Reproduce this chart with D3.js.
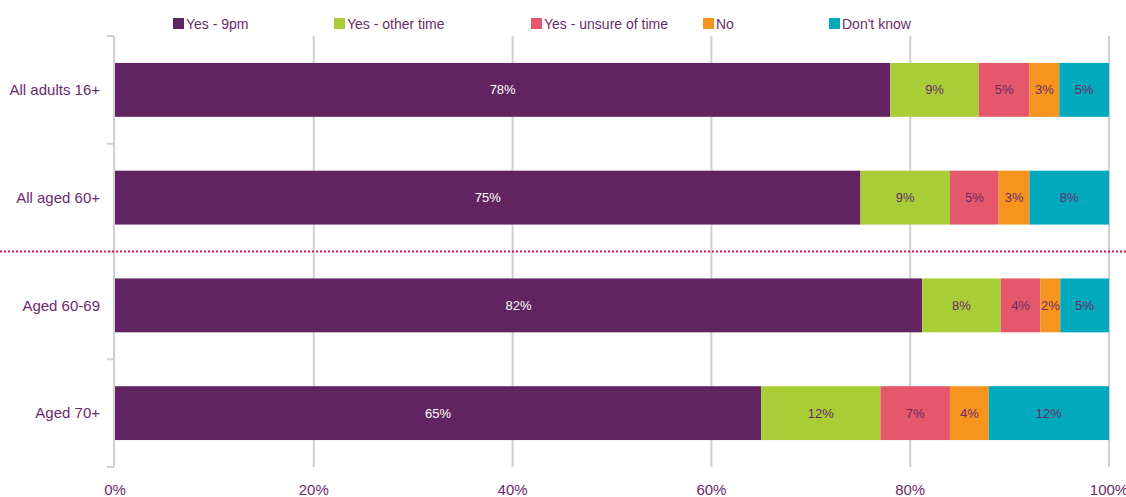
<!DOCTYPE html>
<html>
<head>
<meta charset="utf-8">
<script src="https://cdn.jsdelivr.net/npm/d3@7/dist/d3.min.js"></script>
<style>
  html, body { margin: 0; padding: 0; background: #fff; }
  svg { display: block; font-family: "Liberation Sans", Arial, sans-serif; }
</style>
</head>
<body>
<svg id="chart" width="1126" height="497"></svg>
<script>
const categories = ["All adults 16+", "All aged 60+", "Aged 60-69", "Aged 70+"];
const seriesNames = ["Yes - 9pm", "Yes - other time", "Yes - unsure of time", "No", "Don't know"];
const seriesColors = ["#612461", "#a8cd37", "#e5576a", "#f7941e", "#00a9bc"];
const yes9pm      = [78, 75, 81.2, 65];
const yesOther    = [8.9, 9, 7.9, 12];
const yesUnsure   = [5.1, 4.9, 4.0, 7];
const no          = [3.0, 3.1, 2.0, 3.9];
const dontKnow    = [5.0, 8.0, 4.9, 12.1];
const labelYes9pm    = ["78%", "75%", "82%", "65%"];
const labelYesOther  = ["9%", "9%", "8%", "12%"];
const labelYesUnsure = ["5%", "5%", "4%", "7%"];
const labelNo        = ["3%", "3%", "2%", "4%"];
const labelDontKnow  = ["5%", "8%", "5%", "12%"];
const xTicks = [0, 20, 40, 60, 80, 100];

(function () {
const seriesValues = [yes9pm, yesOther, yesUnsure, no, dontKnow];
const seriesLabels = [labelYes9pm, labelYesOther, labelYesUnsure, labelNo, labelDontKnow];

const svg = d3.select("#chart");
const mLeft = 115, mRight = 1109, mTop = 36, mBottom = 467;
const textColor = "#6b2a6b";
const gridColor = "#d0d0d0";

const x = d3.scaleLinear().domain([0, 100]).range([mLeft, mRight]);
const y = d3.scaleBand().domain(categories).range([mTop, mBottom]).paddingInner(0.5).paddingOuter(0.25);

// gridlines
svg.append("g").selectAll("line").data(xTicks.slice(1)).join("line")
  .attr("x1", d => x(d)).attr("x2", d => x(d))
  .attr("y1", mTop).attr("y2", mBottom)
  .attr("stroke", gridColor).attr("stroke-width", 2);

// stacked data
const rows = categories.map((c, i) => {
  let acc = 0;
  return seriesValues.map((s, k) => {
    const seg = { cat: c, k, x0: acc, x1: acc + s[i], label: seriesLabels[k][i] };
    acc += s[i];
    return seg;
  });
}).flat();

const g = svg.append("g");
g.selectAll("rect").data(rows).join("rect")
  .attr("x", d => x(d.x0))
  .attr("width", d => x(d.x1) - x(d.x0))
  .attr("y", d => y(d.cat))
  .attr("height", y.bandwidth())
  .attr("fill", d => seriesColors[d.k]);

g.selectAll("text").data(rows).join("text")
  .attr("x", d => (x(d.x0) + x(d.x1)) / 2)
  .attr("y", d => y(d.cat) + y.bandwidth() / 2)
  .attr("dy", "0.35em")
  .attr("text-anchor", "middle")
  .attr("font-size", 13)
  .attr("fill", d => d.k === 0 ? "#ffffff" : textColor)
  .text(d => d.label);

// y axis
const yAxisLine = svg.append("g");
yAxisLine.append("line")
  .attr("x1", mLeft - 1).attr("x2", mLeft - 1).attr("y1", mTop).attr("y2", mBottom)
  .attr("stroke", gridColor).attr("stroke-width", 2);
const boundaries = d3.range(categories.length + 1).map(i => mTop + i * (mBottom - mTop) / categories.length);
yAxisLine.selectAll("line.tick").data(boundaries).join("line")
  .attr("class", "tick")
  .attr("x1", mLeft - 8).attr("x2", mLeft - 1)
  .attr("y1", d => d).attr("y2", d => d)
  .attr("stroke", gridColor).attr("stroke-width", 2);

svg.append("g").selectAll("text").data(categories).join("text")
  .attr("x", mLeft - 15)
  .attr("y", d => y(d) + y.bandwidth() / 2)
  .attr("dy", "0.35em")
  .attr("text-anchor", "end")
  .attr("font-size", 15)
  .attr("fill", textColor)
  .text(d => d);

// x tick labels
svg.append("g").selectAll("text").data(xTicks).join("text")
  .attr("x", d => x(d))
  .attr("y", 495)
  .attr("text-anchor", "middle")
  .attr("font-size", 15)
  .attr("fill", textColor)
  .text(d => d + "%");

// dotted separator
const sepY = (y(categories[1]) + y.bandwidth() + y(categories[2])) / 2;
svg.append("line")
  .attr("x1", 0).attr("x2", 1126)
  .attr("y1", sepY).attr("y2", sepY)
  .attr("stroke", "#d4174c").attr("stroke-width", 2).attr("stroke-dasharray", "2,2");

// legend
const legendX = [173, 334, 531, 703, 829];
const lg = svg.append("g").selectAll("g").data(seriesNames).join("g")
  .attr("transform", (d, i) => `translate(${legendX[i]},18)`);
lg.append("rect").attr("x", 0).attr("y", 0).attr("width", 11).attr("height", 11)
  .attr("fill", (d, i) => seriesColors[i]);
lg.append("text").attr("x", 13).attr("y", 6).attr("dy", "0.35em")
  .attr("font-size", 14).attr("fill", textColor).text(d => d);
})();
</script>
</body>
</html>
